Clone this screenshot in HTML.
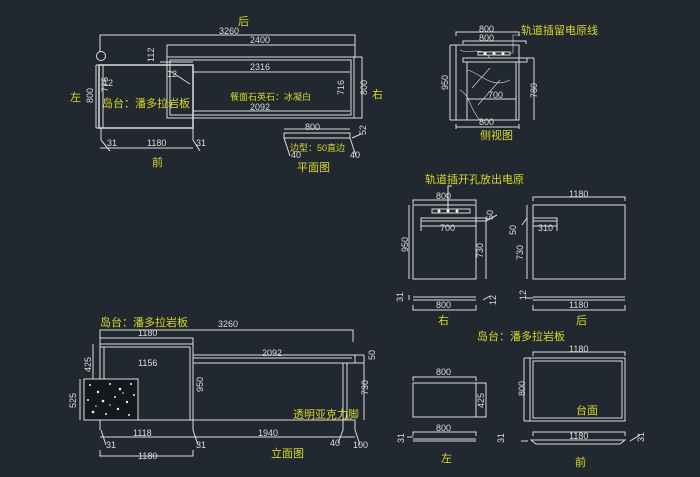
<!DOCTYPE html>
<html><head><meta charset="utf-8"><style>
html,body{margin:0;padding:0;background:#212830;}
svg{display:block}
text{font-family:"Liberation Sans","Noto Sans CJK SC",sans-serif;}
.d{fill:#dcdcdc;font-size:9px}
.y{fill:#d8d82a;font-size:10px}
</style></head><body>
<svg width="700" height="477" viewBox="0 0 700 477" xmlns="http://www.w3.org/2000/svg">
<rect width="700" height="477" fill="#212830"/>
<g stroke="#dcdcdc" stroke-width="1" fill="none">
<path d="M100 52V35H355V57"/>
<path d="M167 57V45H355"/>
<circle cx="101" cy="56" r="4.5"/>
<rect x="167" y="57" width="187" height="61"/>
<rect x="170" y="60" width="181" height="55"/>
<path d="M193 72H350M193 111H350"/>
<path d="M354 57H362V118H354"/>
<rect x="99" y="65" width="94" height="63" stroke-width="1.5"/>
<path d="M103 65V128M96 65V128M96 128H99M96 65H99"/>
<path d="M160 62H193M170 71L190 84"/>
<path d="M101 128V140M193 128V140M100 148H193M101 140L110 151M193 140L200 151"/>
<rect x="284" y="133" width="66" height="5"/>
<path d="M284 129H350M284 138L290 156M350 138L356 156M352 138L361 134"/>
<path d="M100 340V330H353V342"/>
<path d="M100 344V338H193V344"/>
<rect x="100" y="344" width="93" height="76"/>
<path d="M104 347V420M100 347H190M190 347V420"/>
<path d="M193 355H355V363H193Z M193 358H352"/>
<path d="M343 363V420M347 363V420M340 363H350"/>
<path d="M355 355H364M355 363H364M364 355V420"/>
<rect x="84" y="379" width="54" height="41" fill="#15191e"/>
<path d="M84 420H355"/>
<path d="M100 420V430M193 420V430M343 420V430M355 420V430M100 437H355M101 430L106 445M193 430L198 445M343 430L338 443M355 430L360 445"/>
<path d="M100 450V456H193V450"/>
<path d="M93 344V379M80 379V420"/>
<path d="M456 36V32H519V36M463 44V41H526V44"/>
<rect x="456" y="45" width="63" height="75"/>
<path d="M450 45V120M450 45H456M450 120H456"/>
<rect x="463" y="58" width="64" height="4"/>
<rect x="467" y="62" width="49" height="58"/>
<path d="M467 99H516M534 58V120M527 58H534M456 127H519M456 124V129M519 124V129"/>
<rect x="478" y="52" width="32" height="3"/>
<path d="M510 53H513V35H520M472 88L490 68M478 105L500 80" stroke-width="0.6"/>
<path d="M460 50C470 55 480 45 490 58M467 70C480 72 490 90 510 80M460 90C470 95 470 110 480 120" stroke-width="0.6"/>
<path d="M413 204V200H476V204"/>
<rect x="413" y="205" width="63" height="74"/>
<path d="M409 205V279"/>
<rect x="432" y="209" width="38" height="4"/>
<path d="M448 209V186H452"/>
<rect x="421" y="218" width="65" height="3"/>
<path d="M421 226H476M421 221V231M476 221V231M486 221V279M486 221L497 215"/>
<path d="M413 297H476M413 300H476M413 305V310H476V305M409 295V300M483 300L490 296"/>
<path d="M533 201V197H625V201"/>
<rect x="533" y="205" width="92" height="74"/>
<path d="M527 205V279"/>
<rect x="533" y="218" width="24" height="3"/>
<path d="M533 226H557M557 221V231M527 218L522 225"/>
<path d="M533 297H625M533 300H625M533 305V310H625V305M526 298H533"/>
<path d="M413 381V377H476V381"/>
<rect x="413" y="383" width="63" height="34"/>
<path d="M476 383H486V417H476"/>
<path d="M413 436V432H476V436M413 439H476M413 441H476M407 437H413"/>
<path d="M533 356V352H625V356"/>
<rect x="530" y="358" width="95" height="63"/>
<rect x="533" y="361" width="89" height="57"/>
<path d="M524 358V421M524 358H530M524 421H530"/>
<path d="M533 436V432H625V436M531 440H625L620 444H536Z M521 441H528M630 441L640 435"/>
</g>
<g fill="#eee">
<circle cx="485" cy="53.5" r="1.5"/><circle cx="494" cy="53.5" r="1.5"/><circle cx="503" cy="53.5" r="1.5"/>
<circle cx="439" cy="211" r="1.5"/><circle cx="448" cy="211" r="1.5"/><circle cx="457" cy="211" r="1.5"/>
<circle cx="90" cy="385" r="1"/><circle cx="98" cy="392" r="1.2"/><circle cx="110" cy="384" r="1"/><circle cx="120" cy="389" r="1.3"/><circle cx="131" cy="384" r="1"/><circle cx="88" cy="400" r="1"/><circle cx="103" cy="401" r="1.3"/><circle cx="115" cy="397" r="1"/><circle cx="127" cy="402" r="1.2"/><circle cx="134" cy="395" r="1"/><circle cx="93" cy="412" r="1.3"/><circle cx="106" cy="414" r="1"/><circle cx="118" cy="409" r="1.2"/><circle cx="129" cy="415" r="1"/><circle cx="96" cy="406" r="0.8"/><circle cx="123" cy="393" r="0.8"/><circle cx="110" cy="405" r="0.8"/>
</g>
<g class="d">
<text x="219" y="34">3260</text><text x="250" y="43">2400</text><text x="250" y="70">2316</text><text x="250" y="110">2092</text>
<text x="147" y="146">1180</text><text x="107" y="146">31</text><text x="196" y="146">31</text>
<text x="305" y="130">800</text><text x="291" y="158">40</text><text x="350" y="158">40</text>
<text x="167" y="77">12</text><text x="103" y="86">12</text>
<text transform="translate(154,62) rotate(-90)">112</text><text transform="translate(93,103) rotate(-90)">800</text>
<text transform="translate(344,95) rotate(-90)">716</text><text transform="translate(367,95) rotate(-90)">800</text>
<text transform="translate(366,135) rotate(-90)">52</text><text transform="translate(108,92) rotate(-90)">775</text>
<text x="218" y="327">3260</text><text x="138" y="336">1180</text><text x="138" y="366">1156</text><text x="262" y="356">2092</text>
<text x="133" y="436">1118</text><text x="258" y="436">1940</text><text x="106" y="448">31</text><text x="196" y="448">31</text>
<text x="330" y="446">40</text><text x="353" y="448">100</text><text x="138" y="459">1180</text>
<text transform="translate(91,372) rotate(-90)">425</text><text transform="translate(76,408) rotate(-90)">525</text>
<text transform="translate(203,392) rotate(-90)">950</text><text transform="translate(368,395) rotate(-90)">730</text>
<text transform="translate(375,360) rotate(-90)">50</text>
<text x="479" y="32">800</text><text x="479" y="41">800</text><text x="488" y="98">700</text><text x="479" y="125">800</text>
<text transform="translate(448,90) rotate(-90)">950</text><text transform="translate(537,98) rotate(-90)">780</text>
<text x="436" y="199">800</text><text x="440" y="231">700</text><text x="436" y="308">800</text>
<text transform="translate(408,252) rotate(-90)">950</text><text transform="translate(493,220) rotate(-90)">50</text>
<text transform="translate(483,258) rotate(-90)">730</text><text transform="translate(403,302) rotate(-90)">31</text>
<text transform="translate(496,305) rotate(-90)">12</text>
<text x="569" y="197">1180</text><text x="538" y="231">310</text><text x="569" y="308">1180</text>
<text transform="translate(516,235) rotate(-90)">50</text><text transform="translate(523,260) rotate(-90)">730</text>
<text transform="translate(526,300) rotate(-90)">12</text>
<text x="436" y="375">800</text><text x="436" y="431">800</text><text transform="translate(484,408) rotate(-90)">425</text>
<text transform="translate(404,443) rotate(-90)">31</text>
<text x="569" y="352">1180</text><text x="569" y="439">1180</text>
<text transform="translate(525,396) rotate(-90)">800</text><text transform="translate(504,443) rotate(-90)">31</text>
<text transform="translate(644,442) rotate(-90)">31</text>
</g>
<g class="y">
<text x="238" y="25" font-size="11">后</text><text x="70" y="101" font-size="11">左</text><text x="372" y="98" font-size="11">右</text>
<text x="102" y="107" font-size="11">岛台：潘多拉岩板</text><text x="230" y="100" font-size="9">餐面石英石：冰凝白</text>
<text x="152" y="166" font-size="11">前</text><text x="290" y="151" font-size="9">边型：50直边</text><text x="297" y="171" font-size="11">平面图</text>
<text x="100" y="326" font-size="11">岛台：潘多拉岩板</text><text x="293" y="418" font-size="11">透明亚克力脚</text><text x="271" y="457" font-size="11">立面图</text>
<text x="521" y="34" font-size="11">轨道插留电原线</text><text x="480" y="139" font-size="11">侧视图</text>
<text x="425" y="183" font-size="11">轨道插开孔放出电原</text>
<text x="438" y="324" font-size="11">右</text><text x="576" y="324" font-size="11">后</text>
<text x="477" y="340" font-size="11">岛台：潘多拉岩板</text>
<text x="576" y="414" font-size="11">台面</text>
<text x="441" y="462" font-size="11">左</text><text x="575" y="466" font-size="11">前</text>
</g>
</svg>
</body></html>
